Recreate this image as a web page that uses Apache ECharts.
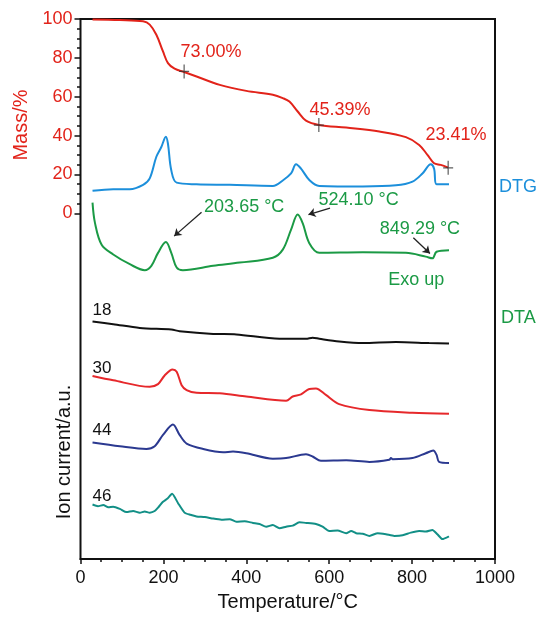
<!DOCTYPE html>
<html>
<head>
	<meta charset="utf-8">
	<title>TG-DTG-DTA-MS</title>
	<script src="https://cdn.jsdelivr.net/npm/echarts@6/dist/echarts.min.js"></script>
	<style>
		html, body { margin: 0; padding: 0; background: #fff; }
		#main { width: 537px; height: 617px; }
	</style>
</head>
<body>
	<div id="main"></div>
	<script>
		// temperature ticks
		var tempTicks = [0, 200, 400, 600, 800, 1000];

		// TG curve (Mass/%)
		var tMass = [29, 95, 151, 167, 183, 199, 211, 227, 250, 280, 336, 400, 464, 488, 504, 524, 544, 575, 641, 721, 785, 817, 837, 853, 869, 887];
		var mass = [99.8, 99.5, 98.8, 97.1, 91.9, 83.3, 77.3, 74.4, 72.7, 70.4, 66.1, 63.0, 61.0, 59.3, 57.5, 52.4, 47.7, 45.5, 44.1, 42.1, 39.2, 35.2, 30.1, 25.8, 24.9, 23.5];

		// step markers on the TG curve
		var stepT = [250, 575, 887];
		var stepMass = [73.00, 45.39, 23.41];
		var stepText = ['73.00%', '45.39%', '23.41%'];
		var stepTextPos = [[315, 83.1], [626, 53.2], [906, 40.3]];

		// DTG, DTA and ion currents, stacked (a.u.)
		var tDTG = [29, 79, 119, 151, 167, 183, 195, 206, 211, 219, 232, 280, 360, 464, 488, 508, 520, 532, 552, 576, 681, 761, 801, 825, 845, 853, 859, 889];
		var dtg = [68.2, 68.5, 68.5, 69.3, 70.5, 74.5, 76.3, 78.2, 76.9, 72.0, 69.7, 69.4, 69.3, 69.1, 70.1, 71.4, 73.1, 72.3, 70.2, 69.1, 69.0, 69.2, 69.9, 71.4, 73.1, 72.3, 69.4, 69.4];

		var tDTA = [29, 35, 51, 79, 119, 155, 171, 187, 206, 219, 232, 247, 320, 384, 464, 488, 508, 524, 536, 552, 576, 681, 785, 833, 849, 859, 889];
		var dta = [66.0, 62.2, 58.2, 56.4, 54.6, 53.5, 54.3, 56.7, 58.7, 56.7, 54.0, 53.5, 54.3, 54.9, 55.8, 57.3, 61.0, 63.8, 62.2, 58.5, 56.7, 56.8, 56.7, 56.0, 55.7, 56.9, 57.2];

		var dtaNotes = ['203.65 °C', '524.10 °C', '849.29 °C', 'Exo up'];
		var dtaNotePos = [[395, 65.1], [671, 66.4], [819, 61.1], [810, 51.6]];
		var dtaArrows = [
			[[292, 64.2], [226, 59.8]],
			[[602, 65.0], [550, 63.8]],
			[[803, 59.5], [843, 56.6]]
		];

		var t18 = [29, 79, 143, 219, 239, 320, 376, 480, 544, 560, 576, 624, 681, 761, 841, 889];
		var i18 = [44.0, 43.5, 42.8, 42.5, 42.2, 41.7, 41.6, 40.8, 40.8, 41.0, 40.8, 40.3, 40.0, 40.2, 40.0, 39.9];

		var t30 = [29, 79, 167, 187, 203, 222, 232, 244, 256, 280, 336, 400, 496, 512, 532, 552, 568, 592, 624, 697, 801, 889];
		var i30 = [33.9, 33.1, 31.9, 32.4, 34.0, 35.1, 34.7, 32.2, 31.3, 30.8, 30.7, 30.1, 29.3, 30.1, 30.5, 31.5, 31.6, 30.4, 28.7, 27.6, 27.1, 26.9];

		var t44 = [29, 95, 159, 179, 199, 223, 239, 256, 296, 344, 368, 400, 464, 496, 544, 560, 580, 641, 697, 745, 749, 753, 801, 833, 851, 859, 865, 889];
		var i44 = [21.6, 20.9, 20.4, 20.9, 23.0, 24.9, 23.0, 21.4, 20.4, 19.8, 19.9, 19.6, 18.6, 18.7, 19.4, 19.0, 18.2, 18.3, 18.0, 18.4, 18.7, 18.5, 18.7, 19.6, 20.1, 19.3, 18.0, 17.8];

		var t46 = [29, 42, 55, 67, 79, 95, 111, 127, 143, 155, 167, 179, 189, 199, 210, 221, 235, 251, 265, 280, 300, 320, 340, 360, 376, 396, 416, 432, 448, 464, 480, 496, 512, 528, 544, 568, 584, 600, 620, 641, 653, 665, 681, 697, 717, 737, 757, 777, 797, 817, 833, 849, 861, 873, 889];
		var i46 = [10.1, 9.8, 10.0, 9.6, 9.7, 9.3, 8.7, 8.9, 8.6, 8.8, 8.6, 8.9, 9.7, 10.6, 11.2, 12.1, 10.4, 8.6, 8.2, 7.9, 7.8, 7.5, 7.3, 7.4, 6.9, 7.0, 6.7, 6.5, 6.0, 6.3, 5.7, 6.0, 6.2, 6.8, 6.7, 6.5, 6.0, 5.2, 5.3, 4.8, 5.2, 4.8, 4.7, 4.3, 4.8, 4.6, 4.3, 4.4, 4.9, 5.2, 5.1, 5.4, 4.6, 3.7, 4.2];

		var ionNames = ['18', '30', '44', '46'];
		var ionNameT = 52;
		var ionNameY = [46.0, 35.3, 23.8, 11.7];

		var FONT = 'Liberation Sans, Arial, Helvetica, sans-serif';
		var RED = '#e2231a', BLUE = '#1c8fdb', GREEN = '#1b9a45';

		function zip(xs, ys) {
			var out = [];
			for (var i = 0; i < xs.length; i++) out.push([xs[i], ys[i]]);
			return out;
		}

		function curve(name, xs, ys, color, smooth) {
			return {
				name: name, type: 'line', xAxisIndex: 0, yAxisIndex: 0,
				data: zip(xs, ys), showSymbol: false, smooth: smooth,
				lineStyle: { color: color, width: 2 }, z: 3
			};
		}

		// text placed at data coordinates (annotations)
		function textSeries(xi, yi, pos, texts, color, size) {
			return {
				type: 'scatter', xAxisIndex: xi, yAxisIndex: yi,
				symbolSize: 0, itemStyle: { color: color, opacity: 1 },
				data: pos.map(function (p, i) { return { value: p, name: texts[i] }; }),
				label: {
					show: true, position: [0, 0], align: 'center', verticalAlign: 'middle',
					formatter: '{b}', color: color, fontSize: size, fontFamily: FONT,
					textBorderWidth: 0
				},
				silent: true, z: 5
			};
		}

		var myChart = echarts.init(document.getElementById('main'));

		var option = {
			animation: false,
			backgroundColor: '#fff',
			grid: [
				{ left: 80.5, right: 42, top: 19, bottom: 53.5, show: true, borderColor: '#111', borderWidth: 2, backgroundColor: 'transparent' },
				{ left: 80.5, right: 42, top: 19, height: 194.3 }
			],
			xAxis: [{
				gridIndex: 0, type: 'value', min: tempTicks[0], max: tempTicks[tempTicks.length - 1], interval: 200,
				name: 'Temperature/°C', nameLocation: 'middle', nameGap: 32,
				nameTextStyle: { color: '#111', fontSize: 20, fontFamily: FONT },
				axisLine: { lineStyle: { color: '#111', width: 2 } },
				axisTick: { inside: false, length: 5, lineStyle: { color: '#111', width: 1.5 } },
				minorTick: { show: true, splitNumber: 4, length: 3, lineStyle: { color: '#111', width: 1.5 } },
				axisLabel: { color: '#111', fontSize: 18, fontFamily: FONT, margin: 10, formatter: function (v) { return String(v); } },
				splitLine: { show: false }
			}, {
				gridIndex: 1, type: 'value', min: 0, max: 1000, show: false
			}],
			yAxis: [{
				gridIndex: 0, type: 'value', min: 0, max: 100, show: false
			}, {
				gridIndex: 1, type: 'value', min: 0, max: 100, interval: 20,
				axisLine: { show: false },
				axisTick: { show: true, inside: false, length: 6, lineStyle: { color: '#111', width: 1.5 } },
				minorTick: { show: true, splitNumber: 4, length: 3.5, lineStyle: { color: '#111', width: 1.5 } },
				axisLabel: { color: RED, fontSize: 18, fontFamily: FONT, margin: 8 },
				splitLine: { show: false }
			}],
			graphic: [
				{ type: 'text', x: 21.5, y: 125, rotation: Math.PI / 2, style: { text: 'Mass/%', fill: RED, font: '20px ' + FONT, align: 'center', verticalAlign: 'middle' } },
				{ type: 'text', x: 64, y: 452, rotation: Math.PI / 2, style: { text: 'Ion current/a.u.', fill: '#111', font: '20px ' + FONT, align: 'center', verticalAlign: 'middle' } },
				{ type: 'text', x: 499, y: 187, style: { text: 'DTG', fill: BLUE, font: '18px ' + FONT, align: 'left', verticalAlign: 'middle' } },
				{ type: 'text', x: 501, y: 318, style: { text: 'DTA', fill: GREEN, font: '18px ' + FONT, align: 'left', verticalAlign: 'middle' } }
			],
			series: [
				{
					name: 'Mass', type: 'line', xAxisIndex: 1, yAxisIndex: 1,
					data: zip(tMass, mass), showSymbol: false, smooth: 0.35,
					lineStyle: { color: RED, width: 2 }, z: 3
				},
				{
					name: 'steps', type: 'scatter', xAxisIndex: 1, yAxisIndex: 1,
					data: zip(stepT, stepMass),
					symbol: 'path://M4.4,0h1.2v14h-1.2z M0,6.4h10v1.2h-10z',
					symbolSize: [10, 14], itemStyle: { color: '#333' }, z: 4
				},
				textSeries(1, 1, stepTextPos, stepText, RED, 18),
				curve('DTG', tDTG, dtg, BLUE, 0.35),
				curve('DTA', tDTA, dta, GREEN, 0.35),
				curve('18', t18, i18, '#111', 0.3),
				curve('30', t30, i30, '#e6282b', 0.3),
				curve('44', t44, i44, '#2b3990', 0.3),
				curve('46', t46, i46, '#128f86', 0.2),
				textSeries(0, 0, dtaNotePos, dtaNotes, GREEN, 18),
				textSeries(0, 0, ionNames.map(function (n, i) { return [ionNameT, ionNameY[i]]; }), ionNames, '#111', 17),
				{
					type: 'lines', coordinateSystem: 'cartesian2d', xAxisIndex: 0, yAxisIndex: 0,
					symbol: ['none', 'arrow'], symbolSize: 7,
					lineStyle: { color: '#222', width: 1.3, opacity: 1 },
					data: dtaArrows.map(function (c) { return { coords: c }; }), z: 4
				}
			]
		};

		myChart.setOption(option);
	</script>
</body>
</html>
